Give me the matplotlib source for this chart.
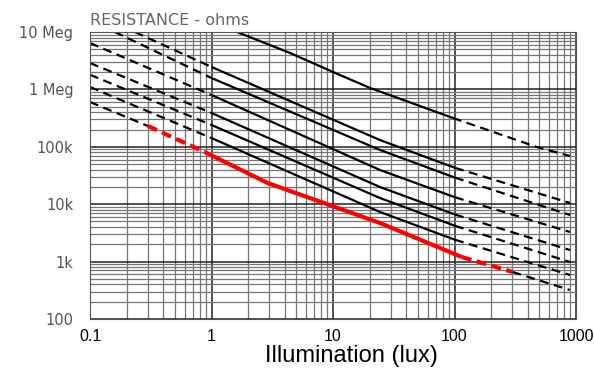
import matplotlib.pyplot as plt
import numpy as np

# curves (lux, ohms)
lux_a = [1.62, 4.43, 11.4, 20.2, 97, 477, 893]
ohm_a = [10e6, 4.31e6, 1.78e6, 1.06e6, 318e3, 99e3, 69e3]

lux_c = [0.234, 1, 24.4, 101, 893]
ohm_c = [10e6, 2.46e6, 131e3, 43e3, 10.5e3]

lux_b = [0.16, 1, 24.4, 101, 893]
ohm_b = [10e6, 1.58e6, 88e3, 29e3, 6.48e3]

lux_d = [0.1, 1, 24.4, 101, 893]
ohm_d = [6.43e6, 798e3, 39.4e3, 13.2e3, 3.28e3]

lux_e = [0.1, 1, 24.4, 101, 893]
ohm_e = [2.88e6, 388e3, 19.9e3, 6.6e3, 1.59e3]

lux_f = [0.1, 1, 24.4, 101, 893]
ohm_f = [1.8e6, 240e3, 12.8e3, 4.2e3, 984]

lux_g = [0.1, 1, 24.4, 101, 893]
ohm_g = [1.10e6, 142e3, 7.31e3, 2.4e3, 584]

lux_red = [0.1, 0.3, 0.88, 2.9, 24.4, 115, 300, 890]
ohm_red = [603e3, 230e3, 81e3, 23.4e3, 4.7e3, 1.2e3, 660, 320]

x_ticks = [0.1, 1, 10, 100, 1000]
x_labels = ['0.1', '1', '10', '100', '1000']
y_ticks = [100, 1e3, 1e4, 1e5, 1e6, 1e7]
y_labels = ['100', '1k', '10k', '100k', '1 Meg', '10 Meg']

fig = plt.figure(figsize=(5.94, 3.72), dpi=100)
ax = fig.add_axes([90/594, 1-319/372, 486/594, 287/372])
ax.set_xscale('log')
ax.set_yscale('log')
ax.set_xlim(0.1, 1000)
ax.set_ylim(100, 1e7)

ax.grid(True, which='major', color='#222222', lw=1.1)
ax.grid(True, which='minor', color='#777777', lw=0.9)
ax.set_axisbelow(True)

black_dash = (0, (4, 2.5))
red_dash = (0, (2.4, 1.3))


def draw(lx, oh, lo, hi, color, lw, dash):
    lx = np.array(lx)
    oh = np.array(oh)
    left = lx <= lo
    mid = (lx >= lo) & (lx <= hi)
    right = lx >= hi
    ax.plot(lx[left], oh[left], color=color, lw=lw, ls=dash)
    ax.plot(lx[mid], oh[mid], color=color, lw=lw, solid_capstyle='butt')
    ax.plot(lx[right], oh[right], color=color, lw=lw, ls=dash)


draw(lux_a, ohm_a, 1.62, 97, 'black', 1.6, black_dash)
for lx, oh in [(lux_c, ohm_c), (lux_b, ohm_b), (lux_d, ohm_d),
               (lux_e, ohm_e), (lux_f, ohm_f), (lux_g, ohm_g)]:
    draw(lx, oh, 1, 101, 'black', 1.6, black_dash)

# red curve: black dashed ends, red dashed, red solid
lr = np.array(lux_red)
orr = np.array(ohm_red)
ax.plot(lr[:2], orr[:2], color='black', lw=1.6, ls=black_dash)
ax.plot(lr[6:], orr[6:], color='black', lw=1.6, ls=black_dash)
ax.plot(lr[1:3], orr[1:3], color='red', lw=3, ls=red_dash)
ax.plot(lr[5:7], orr[5:7], color='red', lw=3, ls=red_dash)
ax.plot(lr[2:6], orr[2:6], color='red', lw=3, solid_capstyle='butt')

ax.set_xticks(x_ticks)
ax.set_xticklabels(x_labels, fontsize=11.5, family='Liberation Sans')
ax.set_yticks(y_ticks)
ax.set_yticklabels(y_labels, fontsize=10.5, color='#555555', family='DejaVu Sans')
ax.tick_params(which='both', length=0)
ax.tick_params(axis='x', pad=7)
ax.tick_params(axis='y', pad=12)
for s in ax.spines.values():
    s.set_color('#555555')

fig.text(90/594, 1-25/372, 'RESISTANCE - ohms', fontsize=11.5, color='#666666',
         family='DejaVu Sans', va='baseline', ha='left')
fig.text(351/594, 1-362/372, 'Illumination (lux)', fontsize=17,
         family='Liberation Sans', va='baseline', ha='center')

fig.savefig('out.png', dpi=100)
